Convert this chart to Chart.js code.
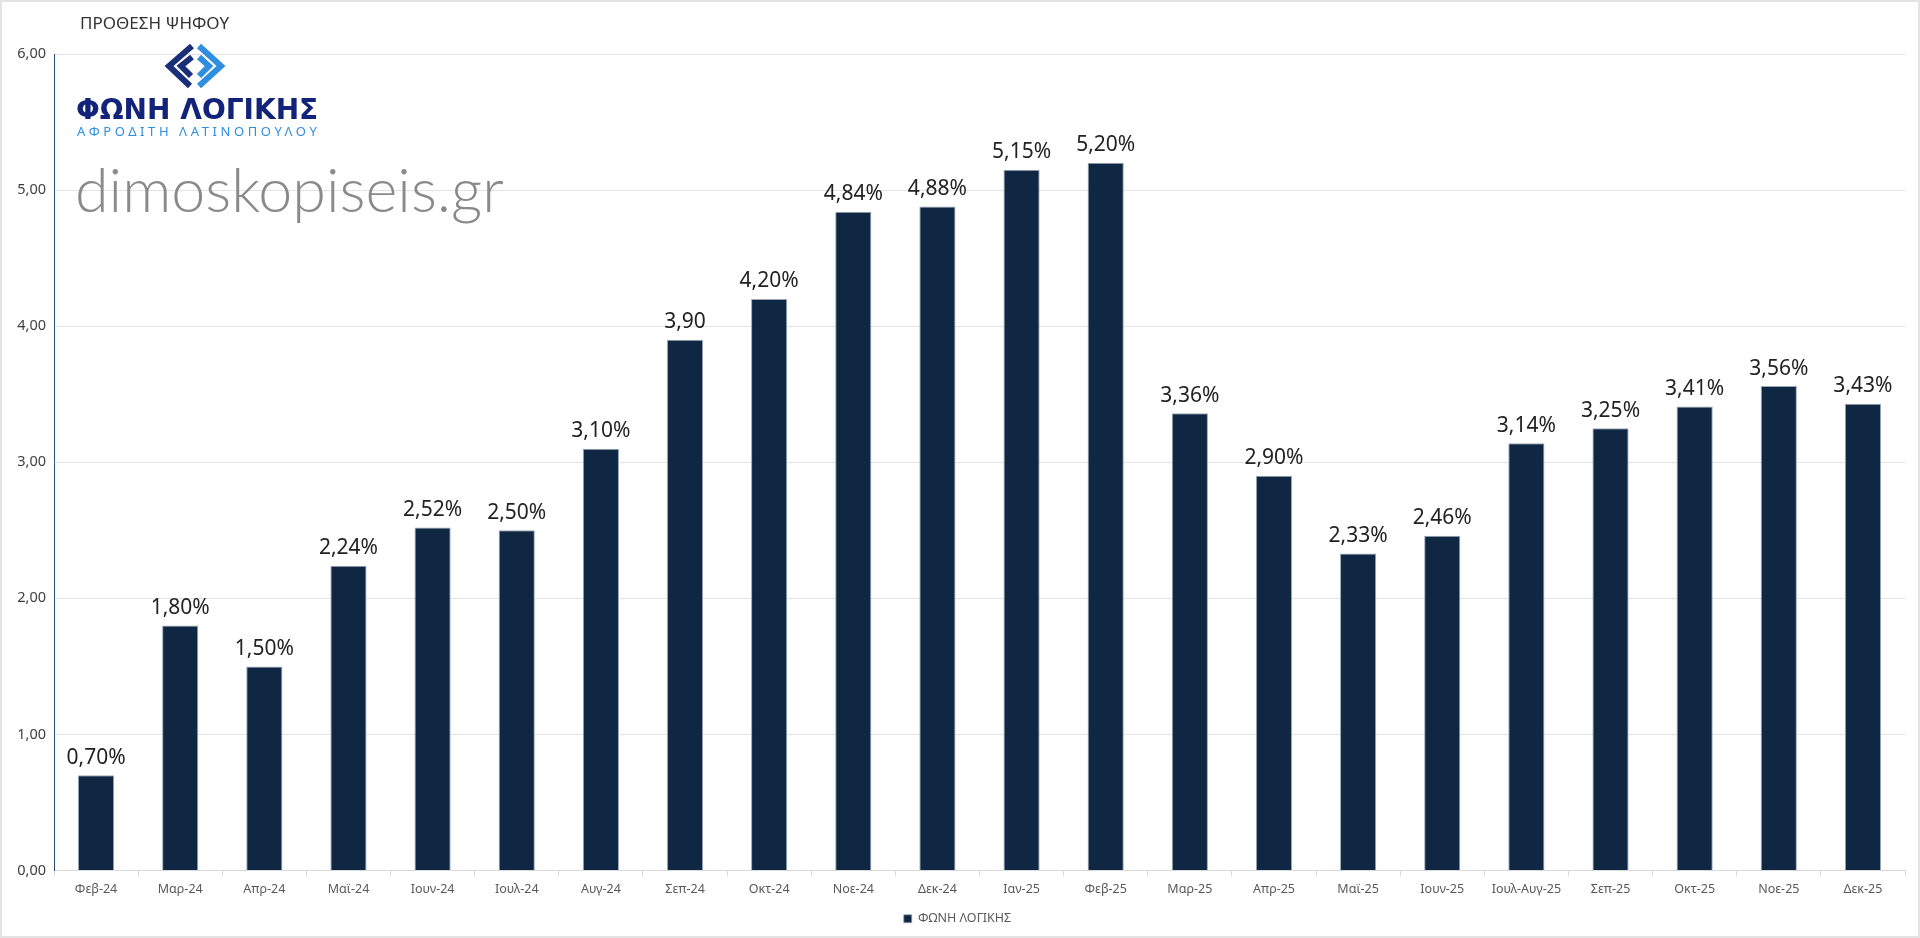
<!DOCTYPE html>
<html>
<head>
<meta charset="utf-8">
<script src="https://cdn.jsdelivr.net/npm/chart.js@4.4.1/dist/chart.umd.min.js"></script>
<style>
  html, body { margin: 0; padding: 0; background: #fff; }
  #wrap { position: relative; width: 1920px; height: 938px; box-sizing: border-box; border: 2px solid #e3e3e3; }
  canvas { display: block; }
</style>
</head>
<body>
<div id="wrap"><canvas id="voteChart" width="1916" height="934"></canvas></div>
<script>
// months of the survey series
const months = ["Φεβ-24", "Μαρ-24", "Απρ-24", "Μαϊ-24", "Ιουν-24", "Ιουλ-24", "Αυγ-24", "Σεπ-24",
    "Οκτ-24", "Νοε-24", "Δεκ-24", "Ιαν-25", "Φεβ-25", "Μαρ-25", "Απρ-25", "Μαϊ-25", "Ιουν-25",
    "Ιουλ-Αυγ-25", "Σεπ-25", "Οκτ-25", "Νοε-25", "Δεκ-25"];

// vote intention values
const voteValues = [0.70, 1.80, 1.50, 2.24, 2.52, 2.50, 3.10, 3.90, 4.20, 4.84, 4.88, 5.15, 5.20,
    3.36, 2.90, 2.33, 2.46, 3.14, 3.25, 3.41, 3.56, 3.43];

// labels as printed above the bars
const valueLabels = ["0,70%", "1,80%", "1,50%", "2,24%", "2,52%", "2,50%", "3,10%", "3,90", "4,20%",
    "4,84%", "4,88%", "5,15%", "5,20%", "3,36%", "2,90%", "2,33%", "2,46%", "3,14%", "3,25%",
    "3,41%", "3,56%", "3,43%"];

const yTicks = [0, 1, 2, 3, 4, 5, 6];
const seriesName = "ΦΩΝΗ ΛΟΓΙΚΗΣ";
const barColor = "#0f2742";

// Plugin for the title, logo, watermark and the value labels
const decorPlugin = {
    id: "decor",
    beforeDatasetsDraw(chart) {
        const ctx = chart.ctx;
        ctx.save();
        // watermark
        ctx.fillStyle = "#8a8a8a";
        ctx.font = "300 61px Lato";
        ctx.textBaseline = "alphabetic";
        ctx.textAlign = "left";
        ctx.fillText("dimoskopiseis.gr", 73, 210);
        ctx.restore();
    },
    afterDraw(chart) {
        const ctx = chart.ctx;
        ctx.save();
        // title
        ctx.fillStyle = "#333";
        ctx.font = "17px 'Noto Sans'";
        ctx.textBaseline = "middle";
        ctx.textAlign = "left";
        ctx.fillText("ΠΡΟΘΕΣΗ ΨΗΦΟΥ", 78, 22);

        // logo icon (two chevron diamonds)
        ctx.lineWidth = 6;
        ctx.strokeStyle = "#1a2f7a";
        ctx.beginPath();
        ctx.moveTo(190, 44); ctx.lineTo(167, 64); ctx.lineTo(188, 84);
        ctx.moveTo(190, 55); ctx.lineTo(179, 64); ctx.lineTo(189, 74);
        ctx.stroke();
        ctx.strokeStyle = "#2f8ee0";
        ctx.beginPath();
        ctx.moveTo(197, 44); ctx.lineTo(219, 64); ctx.lineTo(197, 84);
        ctx.moveTo(197, 55); ctx.lineTo(207, 64); ctx.lineTo(197, 74);
        ctx.stroke();

        ctx.fillStyle = "#14237a";
        ctx.font = "900 28px 'DejaVu Sans'";
        ctx.textBaseline = "alphabetic";
        ctx.fillText("ΦΩΝΗ ΛΟΓΙΚΗΣ", 74, 117);
        ctx.fillStyle = "#2f8ee0";
        ctx.font = "13px 'Noto Sans'";
        if ("letterSpacing" in ctx) ctx.letterSpacing = "3.6px";
        ctx.fillText("ΑΦΡΟΔΙΤΗ ΛΑΤΙΝΟΠΟΥΛΟΥ", 75, 134);
        if ("letterSpacing" in ctx) ctx.letterSpacing = "0px";

        // value labels over the bars
        const meta = chart.getDatasetMeta(0);
        ctx.fillStyle = "#222";
        ctx.font = "21px 'Noto Sans'";
        ctx.textAlign = "center";
        ctx.textBaseline = "bottom";
        meta.data.forEach((bar, i) => {
            ctx.fillText(valueLabels[i], bar.x, bar.y - 7);
        });
        ctx.restore();
    }
};

const ctx = document.getElementById("voteChart").getContext("2d");
const voteChart = new Chart(ctx, {
    type: "bar",
    data: {
        labels: months,
        datasets: [
            {
                label: seriesName,
                data: voteValues,
                backgroundColor: barColor,
                borderColor: "#9aa7b6",
                borderWidth: { top: 1, left: 1, right: 1, bottom: 0 },
                borderSkipped: "bottom",
                barPercentage: 0.43,
                categoryPercentage: 1.0,
            },
        ],
    },
    options: {
        responsive: false,
        animation: false,
        layout: {
            padding: { top: 52, right: 13, bottom: 1, left: 8 },
        },
        scales: {
            x: {
                grid: {
                    offset: true,
                    drawOnChartArea: false,
                    drawTicks: true,
                    tickLength: 6,
                    color: "#d9d9d9",
                },
                border: { color: "#d9d9d9" },
                ticks: {
                    color: "#595959",
                    font: { family: "'Noto Sans'", size: 12.5 },
                    maxRotation: 0,
                    autoSkip: false,
                    padding: 5,
                },
                afterFit: (scale) => { scale.height = 32; },
            },
            y: {
                min: 0,
                max: 6,
                afterBuildTicks: (scale) => {
                    scale.ticks = yTicks.map((v) => ({ value: v }));
                },
                grid: { color: "#e3e3e3", drawTicks: false },
                border: { color: "#2c4a7a" },
                ticks: {
                    color: "#404040",
                    font: { family: "'Noto Sans'", size: 14.5 },
                    padding: 8,
                    callback: (v) => v.toFixed(2).replace(".", ","),
                },
                afterFit: (scale) => { scale.width = 44; },
            },
        },
        plugins: {
            legend: {
                position: "bottom",
                labels: {
                    color: "#595959",
                    font: { family: "'Noto Sans'", size: 12.5 },
                    boxWidth: 8,
                    boxHeight: 8,
                    padding: 10,
                },
            },
            tooltip: { enabled: false },
        },
    },
    plugins: [decorPlugin],
});
</script>
</body>
</html>
